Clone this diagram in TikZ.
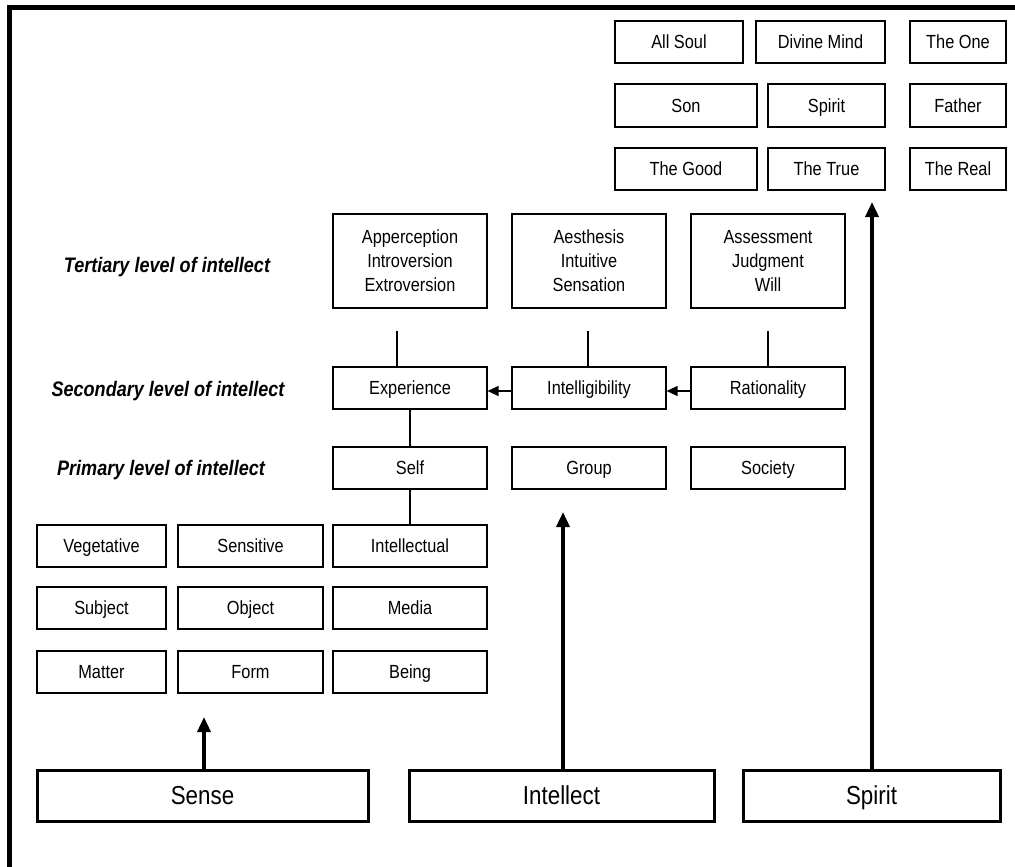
\documentclass[tikz,border=0pt]{standalone}
\usepackage{fontspec}
\setmainfont{Liberation Sans}[FakeStretch=0.86]
\usetikzlibrary{arrows.meta}
\begin{document}
\begin{tikzpicture}[x=1pt,y=-1pt,
  box/.style={draw,line width=1.2pt,inner sep=0pt,align=center,
    font=\fontsize{19}{24}\selectfont},
  onebox/.style={box,text height=13.6pt,text depth=0pt},
  bigbox/.style={draw,line width=3pt,inner sep=0pt,
    text height=18.6pt,text depth=0pt,
    font=\fontsize{26}{30}\selectfont},
  levellabel/.style={font=\fontsize{21}{24}\selectfont\bfseries\itshape},
  thinlink/.style={line width=1.5pt},
  leftarrow/.style={line width=1.5pt,-{Triangle[length=11pt,width=10pt]}},
  uparrow/.style={line width=3.5pt,-{Triangle[length=15pt,width=13pt]}}]
\useasboundingbox (0,0) rectangle (1015,867);
% outer frame (top and left edges)
\draw[line width=5pt] (9.5,867) -- (9.5,7.5) -- (1015,7.5);

% top-right grid
\node[onebox,minimum width=128pt,minimum height=42pt] (allsoul) at (679,42) {All Soul};
\node[onebox,minimum width=129pt,minimum height=42pt] (divine) at (820.5,42) {Divine Mind};
\node[onebox,minimum width=96pt,minimum height=42pt] (one) at (958,42) {The One};
\node[onebox,minimum width=142pt,minimum height=43pt] (son) at (686,105.5) {Son};
\node[onebox,minimum width=117pt,minimum height=43pt] (spiritb) at (826.5,105.5) {Spirit};
\node[onebox,minimum width=96pt,minimum height=43pt] (father) at (958,105.5) {Father};
\node[onebox,minimum width=142pt,minimum height=42pt] (good) at (686,169) {The Good};
\node[onebox,minimum width=117pt,minimum height=42pt] (true) at (826.5,169) {The True};
\node[onebox,minimum width=96pt,minimum height=42pt] (real) at (958,169) {The Real};

% level labels
\node[levellabel] (lt) at (167,267) {Tertiary level of intellect};
\node[levellabel] (ls) at (168,391) {Secondary level of intellect};
\node[levellabel] (lp) at (161,470) {Primary level of intellect};

% tertiary level
\node[box,minimum width=154pt,minimum height=94pt] (apper) at (410,261)
  {Apperception\\Introversion\\Extroversion};
\node[box,minimum width=154pt,minimum height=94pt] (aesth) at (589,261)
  {Aesthesis\\Intuitive\\Sensation};
\node[box,minimum width=154pt,minimum height=94pt] (assess) at (768,261)
  {Assessment\\Judgment\\Will};

% secondary level
\node[onebox,minimum width=154pt,minimum height=42pt] (exper) at (410,388) {Experience};
\node[onebox,minimum width=154pt,minimum height=42pt] (intel) at (589,388) {Intelligibility};
\node[onebox,minimum width=154pt,minimum height=42pt] (ratio) at (768,388) {Rationality};

% primary level
\node[onebox,minimum width=154pt,minimum height=42pt] (self) at (410,468) {Self};
\node[onebox,minimum width=154pt,minimum height=42pt] (group) at (589,468) {Group};
\node[onebox,minimum width=154pt,minimum height=42pt] (society) at (768,468) {Society};

% lower grid
\node[onebox,minimum width=129pt,minimum height=42pt] (veg) at (101.5,546) {Vegetative};
\node[onebox,minimum width=145pt,minimum height=42pt] (sens) at (250.5,546) {Sensitive};
\node[onebox,minimum width=154pt,minimum height=42pt] (intl) at (410,546) {Intellectual};
\node[onebox,minimum width=129pt,minimum height=42pt] (subj) at (101.5,608) {Subject};
\node[onebox,minimum width=145pt,minimum height=42pt] (obj) at (250.5,608) {Object};
\node[onebox,minimum width=154pt,minimum height=42pt] (media) at (410,608) {Media};
\node[onebox,minimum width=129pt,minimum height=42pt] (matter) at (101.5,672) {Matter};
\node[onebox,minimum width=145pt,minimum height=42pt] (form) at (250.5,672) {Form};
\node[onebox,minimum width=154pt,minimum height=42pt] (being) at (410,672) {Being};

% bottom boxes
\node[bigbox,minimum width=331pt,minimum height=51pt] (sense) at (202.5,795.5) {Sense};
\node[bigbox,minimum width=305pt,minimum height=51pt] (intellect) at (561.5,795.5) {Intellect};
\node[bigbox,minimum width=257pt,minimum height=51pt] (spirit) at (871.5,795.5) {Spirit};

% links between tertiary and secondary levels
\coordinate (ta) at (397,331);
\coordinate (tb) at (588,331);
\coordinate (tc) at (768,331);
\draw[thinlink] (ta) -- (ta |- exper.north);
\draw[thinlink] (tb) -- (tb |- intel.north);
\draw[thinlink] (tc) -- (tc |- ratio.north);
\draw[thinlink] (exper) -- (self);
\draw[thinlink] (self) -- (intl);
\draw[leftarrow] ([yshift=-3pt]ratio.west) -- ([yshift=-3pt]intel.east);
\draw[leftarrow] ([yshift=-3pt]intel.west) -- ([yshift=-3pt]exper.east);

% upward arrows
\coordinate (sensetip) at (204,717);
\coordinate (inteltip) at (563,512);
\coordinate (spirittip) at (872,202);
\draw[uparrow] (sensetip |- sense.north) -- (sensetip);
\draw[uparrow] (inteltip |- intellect.north) -- (inteltip);
\draw[uparrow] (spirittip |- spirit.north) -- (spirittip);
\end{tikzpicture}
\end{document}
